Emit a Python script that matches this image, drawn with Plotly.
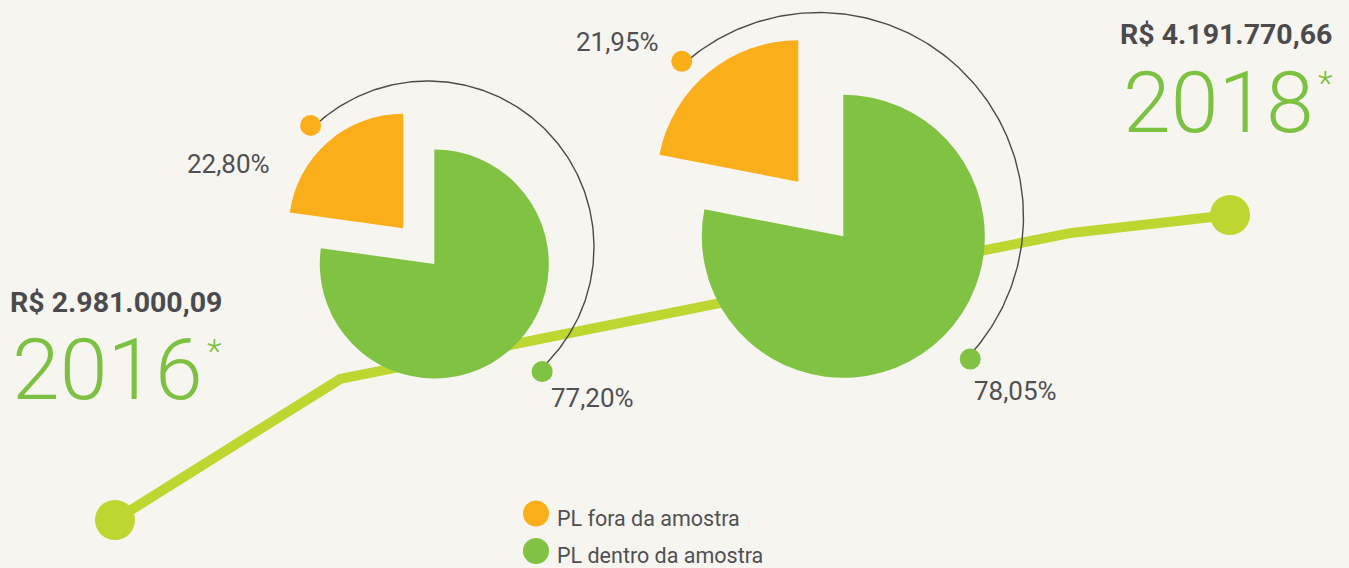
import numpy as np
import plotly.graph_objects as go

# ---------------- data ----------------
years = ["2016", "2018"]
totals = ["R$ 2.981.000,09", "R$ 4.191.770,66"]
series_names = ["PL dentro da amostra", "PL fora da amostra"]
pl_dentro = [77.20, 78.05]
pl_fora = [22.80, 21.95]
pct_dentro_labels = ["77,20%", "78,05%"]
pct_fora_labels = ["22,80%", "21,95%"]
# evolution line (R$ millions) along time
line_t = [2016.0, 2016.404, 2017.713, 2018.0]
line_v = [2.98100009, 3.541, 4.120, 4.19177066]

# ---------------- style ----------------
W, H = 1349, 568
BG = "#f7f5f0"
ORANGE = "#faaf1a"
GREEN = "#80c242"
YEAR_GREEN = "#7dc142"
LIME = "#bed630"
DARK = "#4b4b4d"
TXT = "#505052"
FONT = "Roboto"

fig = go.Figure()

# evolution line (data axes)
fig.add_trace(go.Scatter(
    x=line_t, y=line_v, mode="lines+markers",
    line=dict(color=LIME, width=10),
    marker=dict(color=LIME, size=[40, 0, 0, 40], opacity=1,
                line=dict(width=0)),
    hoverinfo="skip", showlegend=False, xaxis="x", yaxis="y"))

# decorative arcs linking the percentage dots (pixel overlay axes)
arcs = [  # center x, center y, radius, start angle, end angle (deg)
    (428, 247, 166, 134.0, -47.5),
    (819, 217, 204.5, 131.4, -43.2),
]
for cx, cy, r, a0, a1 in arcs:
    ang = np.radians(np.linspace(a0, a1, 200))
    fig.add_trace(go.Scatter(
        x=cx + r * np.cos(ang), y=cy - r * np.sin(ang), mode="lines",
        line=dict(color="#4a4a4a", width=1.4), hoverinfo="skip",
        showlegend=False, xaxis="x2", yaxis="y2"))
    ends = np.radians([a0, a1])
    fig.add_trace(go.Scatter(
        x=cx + (r + 3) * np.cos(ends), y=cy - (r + 3) * np.sin(ends),
        mode="markers", marker=dict(color=[ORANGE, GREEN], size=21, opacity=1),
        hoverinfo="skip", showlegend=False, xaxis="x2", yaxis="y2"))

# legend dots
fig.add_trace(go.Scatter(
    x=[536, 536], y=[513.5, 551], mode="markers",
    marker=dict(color=[ORANGE, GREEN], size=26, opacity=1),
    hoverinfo="skip", showlegend=False, xaxis="x2", yaxis="y2"))

# pies
pie_geo = [  # center px x, center px y, radius px, pull
    (434.3, 264.0, 114.5, 0.414),
    (843.3, 236.3, 141.5, 0.50),
]
for i, (cx, cy, r, pull) in enumerate(pie_geo):
    half = r * (1 + pull)
    fig.add_trace(go.Pie(
        values=[pl_dentro[i], pl_fora[i]], labels=series_names,
        sort=False, direction="clockwise", rotation=0,
        pull=[0, pull], marker=dict(colors=[GREEN, ORANGE], line=dict(width=0)),
        textinfo="none", hoverinfo="label+percent", showlegend=False,
        domain=dict(x=[(cx - half) / W, (cx + half) / W],
                    y=[1 - (cy + half) / H, 1 - (cy - half) / H])))

ann = []


def txt(x, y, text, size, color, xanchor="center", weight=None):
    f = dict(family=FONT, size=size, color=color)
    if weight:
        f["weight"] = weight
    ann.append(dict(x=x, y=y, xref="x2", yref="y2", text=text, showarrow=False,
                    xanchor=xanchor, yanchor="middle", font=f))


# totals and years
txt(8, 302, totals[0], 28.5, DARK, "left", "bold")
txt(10, 369.5, years[0], 86, YEAR_GREEN, "left", 300)
txt(214, 350.5, "*", 34, YEAR_GREEN, "center", 300)
txt(1334, 34, totals[1], 28.5, DARK, "right", "bold")
txt(1121, 102.5, years[1], 86, YEAR_GREEN, "left", 300)
txt(1325, 82.5, "*", 34, YEAR_GREEN, "center", 300)

# percentage labels
txt(228, 164, pct_fora_labels[0], 26, TXT)
txt(617, 42, pct_fora_labels[1], 26, TXT)
txt(592, 398, pct_dentro_labels[0], 26, TXT)
txt(1015, 391, pct_dentro_labels[1], 26, TXT)

# legend text
txt(555, 518.7, series_names[1], 21.5, TXT, "left")
txt(555, 555.5, series_names[0], 21.5, TXT, "left")

fig.update_layout(
    width=W, height=H, margin=dict(l=0, r=0, t=0, b=0),
    paper_bgcolor=BG, plot_bgcolor="rgba(0,0,0,0)",
    xaxis=dict(range=[2016 - 115 / 557.5, 2016 + 1234 / 557.5], visible=False,
               fixedrange=True, domain=[0, 1]),
    yaxis=dict(range=[2.98100009 - 48 / 251.9, 2.98100009 + 520 / 251.9],
               visible=False, fixedrange=True, domain=[0, 1]),
    xaxis2=dict(range=[0, W], overlaying="x", visible=False, fixedrange=True),
    yaxis2=dict(range=[H, 0], overlaying="y", visible=False, fixedrange=True),
    annotations=ann, showlegend=False,
)

fig.write_html(
    "out.html", config=dict(displayModeBar=False),
    post_script="document.body.style.margin='0';"
                "document.body.style.background='" + BG + "';"
                "document.body.style.overflow='hidden';")
